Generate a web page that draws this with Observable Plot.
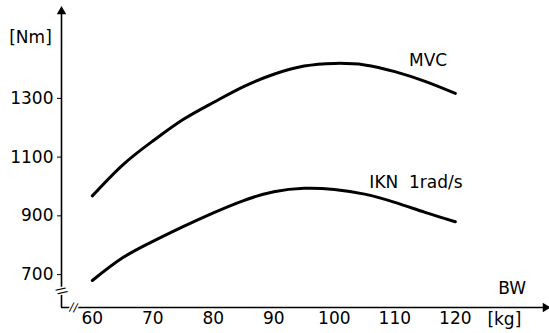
<!DOCTYPE html>
<html>
<head>
<meta charset="utf-8">
<script src="https://cdn.jsdelivr.net/npm/d3@7"></script>
<script src="https://cdn.jsdelivr.net/npm/@observablehq/plot@0.6"></script>
<style>
  html, body { margin: 0; padding: 0; background: #fff; }
  #chart svg { display: block; }
</style>
</head>
<body>
<div id="chart"></div>
<script>
// Body weight (kg)
const bw = [60, 65, 70, 75, 80, 85, 90, 95, 100, 105, 110, 115, 120];
// Torque (Nm)
const mvc = [968, 1073, 1155, 1228, 1286, 1340, 1382, 1410, 1419, 1414, 1391, 1358, 1317];
const ikn = [680, 757, 813, 863, 910, 952, 982, 994, 990, 974, 946, 912, 880];

const xTicks = [60, 70, 80, 90, 100, 110, 120];
const yTicks = [700, 900, 1100, 1300];

const xDomain = [54.9, 135.4];
const yDomain = [588, 1606];

const seriesLabels = [
  {text: "MVC", x: 115.5, y: 1430},
  {text: "IKN  1rad/s", x: 113.5, y: 1015}
];
const axisLabels = [
  {text: "BW", x: 129.4, y: 652},
  {text: "[kg]", x: 128.1, y: yDomain[0]}
];

const rows = [];
bw.forEach((b, i) => {
  rows.push({bw: b, v: mvc[i], s: "MVC"});
  rows.push({bw: b, v: ikn[i], s: "IKN"});
});

const font = "DejaVu Sans, sans-serif";

const chart = Plot.plot({
  width: 549,
  height: 333,
  marginLeft: 61,
  marginRight: 1,
  marginTop: 8,
  marginBottom: 26,
  style: {fontFamily: font, fontSize: "17px", background: "white", color: "black"},
  x: {domain: xDomain},
  y: {domain: yDomain},
  marks: [
    Plot.ruleX([xDomain[0]], {stroke: "black", strokeWidth: 1.6}),
    Plot.ruleY([yDomain[0]], {stroke: "black", strokeWidth: 1.6}),
    Plot.dot([{x: xDomain[0], y: yDomain[1]}], {x: "x", y: "y", symbol: "triangle", fill: "black", r: 3.5, dy: 3}),
    Plot.dot([{x: xDomain[1], y: yDomain[0]}], {x: "x", y: "y", symbol: "triangle", fill: "black", r: 3.5, rotate: 90, dx: -3}),
    Plot.text([{x: xDomain[0], y: 645}], {x: "x", y: "y", text: () => "//", fontSize: 12, stroke: "white", strokeWidth: 3, fill: "black", rotate: 60}),
    Plot.text([{x: 56.9, y: yDomain[0]}], {x: "x", y: "y", text: () => "//", fontSize: 12, stroke: "white", strokeWidth: 3, fill: "black", rotate: 10}),
    Plot.axisY({ticks: yTicks, tickFormat: "d", tickSize: 4, tickPadding: 4, label: null, fontSize: 17}),
    Plot.axisX({ticks: xTicks, tickFormat: "d", tickSize: 0, tickPadding: 4, label: null, fontSize: 17}),
    Plot.text(["[Nm]"], {frameAnchor: "top-left", dx: -31, dy: 22, fontSize: 17, textAnchor: "middle"}),
    Plot.line(rows, {x: "bw", y: "v", z: "s", stroke: "black", strokeWidth: 3, curve: "natural"}),
    Plot.text(seriesLabels, {x: "x", y: "y", text: "text", fontSize: 17}),
    Plot.text(axisLabels.slice(0, 1), {x: "x", y: "y", text: "text", fontSize: 17}),
    Plot.text(axisLabels.slice(1), {x: "x", y: "y", text: "text", fontSize: 17, dy: 12})
  ]
});

document.getElementById("chart").appendChild(chart);
</script>
</body>
</html>
